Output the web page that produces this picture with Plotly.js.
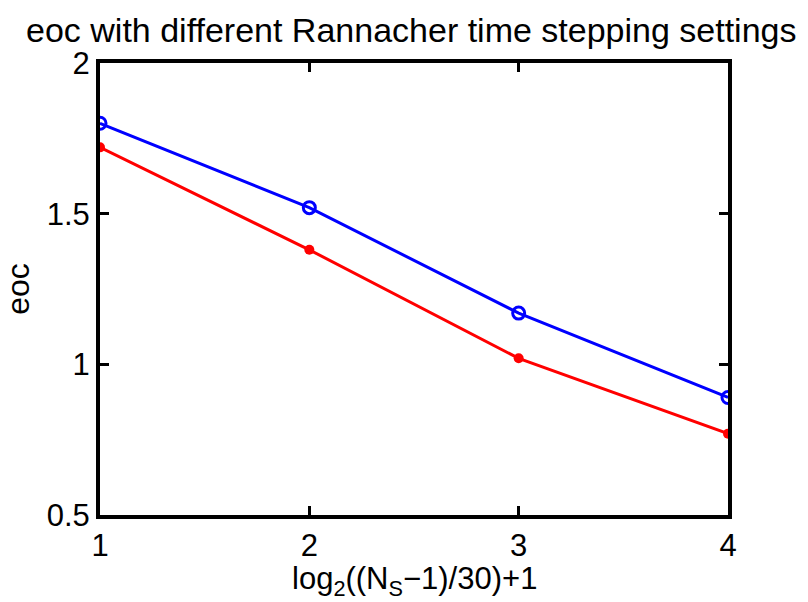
<!DOCTYPE html>
<html><head><meta charset="utf-8">
<script src="https://cdn.plot.ly/plotly-3.0.1.min.js"></script>
<style>body{margin:0;padding:0;background:#fff}#c{width:808px;height:602px}</style>
</head><body><div id="c"></div>
<script>
const xVals = [1, 2, 3, 4];
const blueVals = [1.80, 1.52, 1.17, 0.89];
const redVals = [1.72, 1.38, 1.02, 0.77];
const xTicks = [1, 2, 3, 4];
const yTicks = [0.5, 1, 1.5, 2];
const yTickText = ['0.5', '1', '1.5', '2'];
const xLabel = 'log<sub>2</sub>((N<sub>S</sub>−1)/30)+1';

const font = '"Liberation Sans", Arial, sans-serif';
const traces = [
  {x: xVals, y: blueVals, mode: 'lines+markers', line: {color: '#0000ff', width: 3},
   marker: {symbol: 'circle-open', size: 12, color: '#0000ff', line: {width: 3, color: '#0000ff'}}},
  {x: xVals, y: redVals, mode: 'lines+markers', line: {color: '#ff0000', width: 3},
   marker: {symbol: 'circle', size: 10, color: '#ff0000'}}
];
const axisCommon = {showgrid: false, zeroline: false, showline: true, linecolor: '#000', linewidth: 4,
  mirror: 'ticks', ticks: 'inside', ticklen: 9, tickwidth: 3, tickcolor: '#000',
  tickfont: {family: font, size: 31, color: '#000'}};
const layout = {
  width: 808, height: 602, paper_bgcolor: '#fff', plot_bgcolor: '#fff', showlegend: false,
  margin: {l: 100, r: 80, t: 63, b: 87},
  title: {text: 'eoc with different Rannacher time stepping settings', font: {family: font, size: 34, color: '#000'},
    x: 0.509, xanchor: 'center', y: 0.95, yanchor: 'middle'},
  xaxis: Object.assign({}, axisCommon, {range: [1, 4], tickvals: xTicks, ticktext: xTicks.map(String)}),
  yaxis: Object.assign({}, axisCommon, {range: [0.5, 2], tickvals: yTicks, ticktext: yTickText,
    title: {text: 'eoc', font: {family: font, size: 32, color: '#000'}, standoff: 8}}),
  annotations: [{text: xLabel, xref: 'paper', yref: 'paper', x: 0.5, y: -0.097, xanchor: 'center', yanchor: 'top',
    showarrow: false, font: {family: font, size: 31, color: '#000'}}]
};
Plotly.newPlot('c', traces, layout, {displayModeBar: false, staticPlot: true});
</script></body></html>
